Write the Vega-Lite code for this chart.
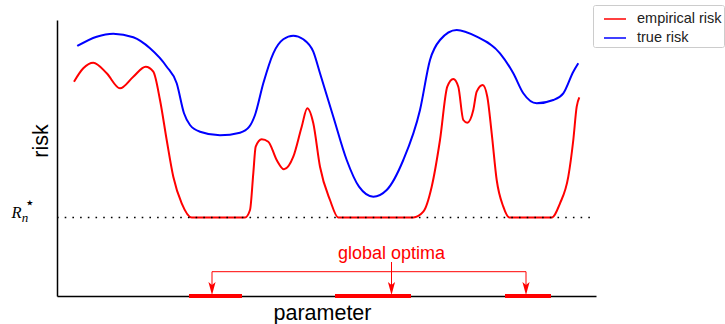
{
  "$schema": "https://vega.github.io/schema/vega-lite/v6.json",
  "width": 539,
  "height": 276,
  "autosize": "none",
  "padding": {"left": 57, "top": 20, "right": 129, "bottom": 28},
  "background": "white",
  "config": {
    "view": {"stroke": null},
    "font": "Liberation Sans",
    "axis": {
      "domain": true, "domainColor": "black", "domainWidth": 1.5,
      "ticks": false, "labels": false, "grid": false,
      "titleFontSize": 21.5, "titleFontWeight": "normal", "titleColor": "black",
      "titleFont": "Liberation Sans", "titleAlign": "center", "titleBaseline": "alphabetic"
    },
    "axisX": {"titleX": 265, "titleY": 23},
    "axisY": {"titleAngle": -90, "titleX": -10, "titleY": 120.5}
  },
  "datasets": {
    "curves": [
      {"series": "true risk", "param": 20.3, "risk": 250},
      {"series": "true risk", "param": 39.7, "risk": 259.3},
      {"series": "true risk", "param": 56.3, "risk": 262.3},
      {"series": "true risk", "param": 76.3, "risk": 258.7},
      {"series": "true risk", "param": 93, "risk": 247.7},
      {"series": "true risk", "param": 109.7, "risk": 229.3},
      {"series": "true risk", "param": 119.7, "risk": 212.7},
      {"series": "true risk", "param": 127, "risk": 182.7},
      {"series": "true risk", "param": 133, "risk": 171},
      {"series": "true risk", "param": 143, "risk": 164.3},
      {"series": "true risk", "param": 163, "risk": 160.7},
      {"series": "true risk", "param": 183, "risk": 163.3},
      {"series": "true risk", "param": 192.3, "risk": 169.3},
      {"series": "true risk", "param": 198, "risk": 181},
      {"series": "true risk", "param": 206.3, "risk": 212.7},
      {"series": "true risk", "param": 216.3, "risk": 242.7},
      {"series": "true risk", "param": 226.3, "risk": 256.7},
      {"series": "true risk", "param": 236.3, "risk": 260.3},
      {"series": "true risk", "param": 246.3, "risk": 256.7},
      {"series": "true risk", "param": 256.3, "risk": 244.3},
      {"series": "true risk", "param": 263, "risk": 222.7},
      {"series": "true risk", "param": 276.3, "risk": 179.3},
      {"series": "true risk", "param": 289.7, "risk": 136},
      {"series": "true risk", "param": 302, "risk": 109.3},
      {"series": "true risk", "param": 316.3, "risk": 99.3},
      {"series": "true risk", "param": 329.7, "risk": 106},
      {"series": "true risk", "param": 346.3, "risk": 136},
      {"series": "true risk", "param": 363, "risk": 186},
      {"series": "true risk", "param": 373, "risk": 236},
      {"series": "true risk", "param": 383, "risk": 256},
      {"series": "true risk", "param": 399.7, "risk": 266},
      {"series": "true risk", "param": 419.7, "risk": 259.3},
      {"series": "true risk", "param": 443, "risk": 242.7},
      {"series": "true risk", "param": 456.3, "risk": 222.7},
      {"series": "true risk", "param": 466.3, "risk": 202.7},
      {"series": "true risk", "param": 479.7, "risk": 192.7},
      {"series": "true risk", "param": 496.3, "risk": 196},
      {"series": "true risk", "param": 506.3, "risk": 202.7},
      {"series": "true risk", "param": 516.3, "risk": 224.3},
      {"series": "true risk", "param": 521.3, "risk": 232.7},
      {"series": "empirical risk", "param": 17, "risk": 214.3},
      {"series": "empirical risk", "param": 26.3, "risk": 227.7},
      {"series": "empirical risk", "param": 36.3, "risk": 233.3},
      {"series": "empirical risk", "param": 49.7, "risk": 222.7},
      {"series": "empirical risk", "param": 63, "risk": 207.7},
      {"series": "empirical risk", "param": 76.3, "risk": 219.3},
      {"series": "empirical risk", "param": 88.7, "risk": 229.3},
      {"series": "empirical risk", "param": 96.3, "risk": 224.3},
      {"series": "empirical risk", "param": 103, "risk": 196},
      {"series": "empirical risk", "param": 109.7, "risk": 156},
      {"series": "empirical risk", "param": 116.3, "risk": 119.3},
      {"series": "empirical risk", "param": 124.7, "risk": 92.7},
      {"series": "empirical risk", "param": 134.7, "risk": 78.5},
      {"series": "empirical risk", "param": 188, "risk": 78.5},
      {"series": "empirical risk", "param": 193, "risk": 86},
      {"series": "empirical risk", "param": 196.3, "risk": 122.7},
      {"series": "empirical risk", "param": 198.7, "risk": 149.3},
      {"series": "empirical risk", "param": 204.7, "risk": 156.7},
      {"series": "empirical risk", "param": 211.3, "risk": 154.3},
      {"series": "empirical risk", "param": 219.7, "risk": 136},
      {"series": "empirical risk", "param": 227, "risk": 126.7},
      {"series": "empirical risk", "param": 236.3, "risk": 139.3},
      {"series": "empirical risk", "param": 244.7, "risk": 169.3},
      {"series": "empirical risk", "param": 250.3, "risk": 187.7},
      {"series": "empirical risk", "param": 256.3, "risk": 172.7},
      {"series": "empirical risk", "param": 263, "risk": 129.3},
      {"series": "empirical risk", "param": 273, "risk": 96},
      {"series": "empirical risk", "param": 281.3, "risk": 78.5},
      {"series": "empirical risk", "param": 356.3, "risk": 78.5},
      {"series": "empirical risk", "param": 366.3, "risk": 84.3},
      {"series": "empirical risk", "param": 374.7, "risk": 109.3},
      {"series": "empirical risk", "param": 383, "risk": 156},
      {"series": "empirical risk", "param": 390.3, "risk": 209.3},
      {"series": "empirical risk", "param": 396.3, "risk": 217},
      {"series": "empirical risk", "param": 401.3, "risk": 209.3},
      {"series": "empirical risk", "param": 406.3, "risk": 176},
      {"series": "empirical risk", "param": 410.3, "risk": 173.3},
      {"series": "empirical risk", "param": 416.3, "risk": 186},
      {"series": "empirical risk", "param": 419.7, "risk": 204.3},
      {"series": "empirical risk", "param": 425.7, "risk": 211},
      {"series": "empirical risk", "param": 430.3, "risk": 199.3},
      {"series": "empirical risk", "param": 434.7, "risk": 162.7},
      {"series": "empirical risk", "param": 439.7, "risk": 116},
      {"series": "empirical risk", "param": 446.3, "risk": 89.3},
      {"series": "empirical risk", "param": 452.3, "risk": 78.5},
      {"series": "empirical risk", "param": 494.7, "risk": 78.5},
      {"series": "empirical risk", "param": 503, "risk": 92.7},
      {"series": "empirical risk", "param": 511.3, "risk": 119.3},
      {"series": "empirical risk", "param": 516.3, "risk": 156},
      {"series": "empirical risk", "param": 519.7, "risk": 189.3},
      {"series": "empirical risk", "param": 522.3, "risk": 198.7}
    ],
    "optima": [
      {"start": 132, "end": 185, "risk": 0},
      {"start": 278, "end": 354, "risk": 0},
      {"start": 448, "end": 494, "risk": 0}
    ],
    "connector": [
      {"x1": 155, "x2": 469, "y1": 24.3, "y2": 24.3},
      {"x1": 155, "x2": 155, "y1": 24.3, "y2": 10},
      {"x1": 469, "x2": 469, "y1": 24.3, "y2": 10},
      {"x1": 334.5, "x2": 334.5, "y1": 34, "y2": 10}
    ],
    "heads": [
      {"param": 155, "risk": 7.5},
      {"param": 334.5, "risk": 7.5},
      {"param": 469, "risk": 7.5}
    ]
  },
  "layer": [
    {
      "data": {"name": "curves"},
      "mark": {"type": "line", "interpolate": "monotone", "strokeWidth": 2},
      "encoding": {
        "x": {
          "field": "param", "type": "quantitative", "title": "parameter",
          "scale": {"domain": [0, 539], "nice": false, "zero": false}
        },
        "y": {
          "field": "risk", "type": "quantitative", "title": "risk",
          "scale": {"domain": [0, 276], "nice": false, "zero": false}
        },
        "color": {
          "field": "series", "type": "nominal",
          "scale": {"domain": ["empirical risk", "true risk"], "range": ["#ff0000", "#0000ff"]},
          "legend": {
            "title": null, "orient": "none", "legendX": 536, "legendY": -15,
            "symbolType": "stroke", "symbolSize": 484, "symbolStrokeWidth": 1.5,
            "labelFontSize": 14.5, "labelFont": "Liberation Sans", "labelColor": "#222222",
            "labelOffset": 10, "padding": 2, "symbolOffset": 8, "rowPadding": -4,
            "strokeColor": "#cccccc", "fillColor": "white", "cornerRadius": 2
          }
        }
      }
    },
    {
      "data": {"values": [{"level": 78.5, "start": 0, "end": 539}]},
      "mark": {"type": "rule", "color": "black", "strokeWidth": 1.6, "strokeDash": [1.6, 6.1]},
      "encoding": {
        "x": {"field": "start", "type": "quantitative", "title": "parameter"},
        "x2": {"field": "end"},
        "y": {"field": "level", "type": "quantitative", "title": "risk"}
      }
    },
    {
      "data": {"name": "optima"},
      "mark": {"type": "rule", "color": "#ff0000", "strokeWidth": 4},
      "encoding": {
        "x": {"field": "start", "type": "quantitative", "title": "parameter"},
        "x2": {"field": "end"},
        "y": {"field": "risk", "type": "quantitative", "title": "risk"}
      }
    },
    {
      "data": {"name": "connector"},
      "mark": {"type": "rule", "color": "#ff0000", "strokeWidth": 1},
      "encoding": {
        "x": {"field": "x1", "type": "quantitative", "title": "parameter"},
        "x2": {"field": "x2"},
        "y": {"field": "y1", "type": "quantitative", "title": "risk"},
        "y2": {"field": "y2"}
      }
    },
    {
      "data": {"name": "heads"},
      "mark": {"type": "point", "filled": true, "color": "#ff0000", "opacity": 1, "size": 169,
               "shape": "M0,1 L-0.55,-1 L0,-0.55 L0.55,-1 Z"},
      "encoding": {
        "x": {"field": "param", "type": "quantitative", "title": "parameter"},
        "y": {"field": "risk", "type": "quantitative", "title": "risk"}
      }
    },
    {
      "data": {"values": [{"label": "global optima", "param": 334.5, "risk": 37}]},
      "mark": {"type": "text", "color": "#ff0000", "fontSize": 18, "font": "Liberation Sans", "align": "center", "baseline": "alphabetic"},
      "encoding": {
        "x": {"field": "param", "type": "quantitative", "title": "parameter"},
        "y": {"field": "risk", "type": "quantitative", "title": "risk"},
        "text": {"field": "label"}
      }
    },
    {
      "data": {"values": [{"label": "R", "param": -40.5, "risk": 78.3}]},
      "mark": {"type": "text", "color": "black", "fontSize": 16.5, "font": "Liberation Serif", "fontStyle": "italic", "align": "center", "baseline": "alphabetic"},
      "encoding": {
        "x": {"field": "param", "type": "quantitative", "title": "parameter"},
        "y": {"field": "risk", "type": "quantitative", "title": "risk"},
        "text": {"field": "label"}
      }
    },
    {
      "data": {"values": [{"label": "n", "param": -32, "risk": 74.3}]},
      "mark": {"type": "text", "color": "black", "fontSize": 13, "font": "Liberation Serif", "fontStyle": "italic", "align": "center", "baseline": "alphabetic"},
      "encoding": {
        "x": {"field": "param", "type": "quantitative", "title": "parameter"},
        "y": {"field": "risk", "type": "quantitative", "title": "risk"},
        "text": {"field": "label"}
      }
    },
    {
      "data": {"values": [{"label": "⋆", "param": -27.3, "risk": 92.7}]},
      "mark": {"type": "text", "color": "black", "fontSize": 16, "font": "DejaVu Sans", "align": "center", "baseline": "middle"},
      "encoding": {
        "x": {"field": "param", "type": "quantitative", "title": "parameter"},
        "y": {"field": "risk", "type": "quantitative", "title": "risk"},
        "text": {"field": "label"}
      }
    }
  ]
}
